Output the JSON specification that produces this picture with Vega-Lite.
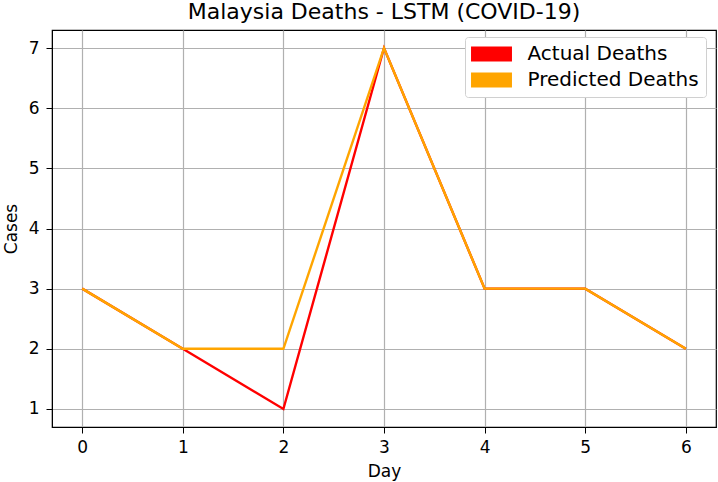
{
  "$schema": "https://vega.github.io/schema/vega-lite/v6.json",
  "width": 664,
  "height": 397,
  "autosize": {"type": "none"},
  "padding": {"left": 52, "top": 30, "right": 2, "bottom": 55},
  "background": "white",
  "title": {"text": "Malaysia Deaths - LSTM (COVID-19)", "font": "DejaVu Sans", "fontSize": 22, "fontWeight": "normal", "color": "#000000", "offset": 6, "anchor": "middle"},
  "config": {
    "view": {"stroke": "#000000", "strokeWidth": 1.2},
    "font": "DejaVu Sans"
  },
  "data": {
    "values": [
      {"Day": 0, "Cases": 3, "series": "Actual Deaths"},
      {"Day": 1, "Cases": 2, "series": "Actual Deaths"},
      {"Day": 2, "Cases": 1, "series": "Actual Deaths"},
      {"Day": 3, "Cases": 7, "series": "Actual Deaths"},
      {"Day": 4, "Cases": 3, "series": "Actual Deaths"},
      {"Day": 5, "Cases": 3, "series": "Actual Deaths"},
      {"Day": 6, "Cases": 2, "series": "Actual Deaths"},
      {"Day": 0, "Cases": 3, "series": "Predicted Deaths"},
      {"Day": 1, "Cases": 2, "series": "Predicted Deaths"},
      {"Day": 2, "Cases": 2, "series": "Predicted Deaths"},
      {"Day": 3, "Cases": 7, "series": "Predicted Deaths"},
      {"Day": 4, "Cases": 3, "series": "Predicted Deaths"},
      {"Day": 5, "Cases": 3, "series": "Predicted Deaths"},
      {"Day": 6, "Cases": 2, "series": "Predicted Deaths"}
    ]
  },
  "mark": {"type": "line", "strokeWidth": 2.4},
  "encoding": {
    "x": {
      "field": "Day", "type": "quantitative",
      "scale": {"domain": [-0.3, 6.3], "nice": false, "zero": false},
      "axis": {"values": [0,1,2,3,4,5,6], "format": "d", "title": "Day", "titleFontSize": 17, "titleFontWeight": "normal", "titleColor": "#000", "titlePadding": 8, "labelFontSize": 17, "labelColor": "#000", "labelPadding": 6, "tickColor": "#000", "tickSize": 6, "domainColor": "#000", "gridColor": "#b0b0b0", "gridWidth": 1.2, "grid": true, "labelFont": "DejaVu Sans", "titleFont": "DejaVu Sans"}
    },
    "y": {
      "field": "Cases", "type": "quantitative",
      "scale": {"domain": [0.7, 7.3], "nice": false, "zero": false},
      "axis": {"values": [1,2,3,4,5,6,7], "format": "d", "title": "Cases", "titleFontSize": 17, "titleFontWeight": "normal", "titleColor": "#000", "titlePadding": 8, "labelFontSize": 17, "labelColor": "#000", "labelPadding": 7, "tickColor": "#000", "tickSize": 6, "domainColor": "#000", "gridColor": "#b0b0b0", "gridWidth": 1.2, "grid": true, "labelFont": "DejaVu Sans", "titleFont": "DejaVu Sans"}
    },
    "color": {
      "field": "series", "type": "nominal",
      "scale": {"domain": ["Actual Deaths", "Predicted Deaths"], "range": ["#ff0000", "#ffa500"]},
      "legend": {
        "title": null, "orient": "none", "legendX": 413, "legendY": 7,
        "labelFontSize": 20, "labelColor": "#000", "labelFont": "DejaVu Sans", "labelLimit": 400,
        "symbolType": "M-2.73,-1H2.73V1H-2.73Z", "symbolSize": 225, "symbolStrokeWidth": 0, "symbolOffset": 9.5,
        "fillColor": "white", "strokeColor": "#d0d0d0", "cornerRadius": 3, "padding": 7, "rowPadding": 6, "labelOffset": 26,
        "encode": {"symbols": {"update": {"fill": {"scale": "color", "field": "value"}, "strokeWidth": {"value": 0}}}}
      }
    },
    "order": {"field": "series"}
  }
}
